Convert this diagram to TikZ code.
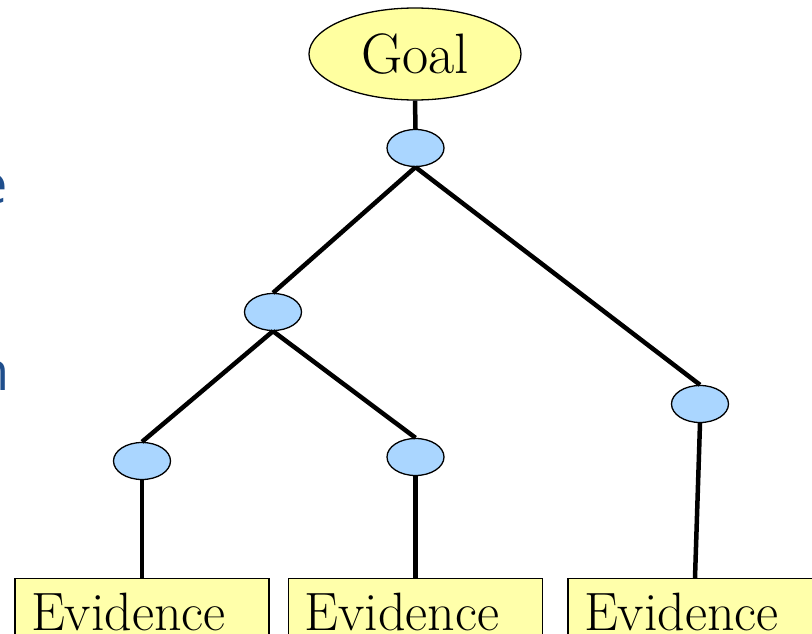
\documentclass[tikz,border=0pt]{standalone}
\usepackage{fontspec}
\newfontfamily\sidefont{Open Sans}
\usetikzlibrary{shapes.geometric}
\definecolor{goalfill}{RGB}{255,255,160}
\definecolor{nodefill}{RGB}{170,214,255}
\definecolor{evfill}{RGB}{255,255,170}
\definecolor{sideblue}{RGB}{31,78,140}
\tikzset{
  goalnode/.style={ellipse, draw, line width=1.3pt, fill=goalfill,
    minimum width=212pt, minimum height=92pt, inner sep=0pt,
    font=\fontsize{57}{57}\selectfont},
  andnode/.style={ellipse, draw, line width=1.3pt, fill=nodefill,
    minimum width=57pt, minimum height=37pt, inner sep=0pt},
  evbox/.style={rectangle, draw, line width=1.3pt, fill=evfill,
    anchor=north, text width=222pt, align=left, inner xsep=16pt, inner ysep=0pt,
    text height=52pt, text depth=30pt, font=\fontsize{54}{54}\selectfont},
  link/.style={line width=4.5pt},
  sidetext/.style={text=sideblue, inner sep=0pt, font=\sidefont\fontsize{54}{54}\selectfont}
}
\begin{document}
\begin{tikzpicture}[x=1pt, y=-1pt]
\useasboundingbox (0,0) rectangle (812,634);
% goal and decomposition nodes
\node[goalnode] (goal) at (415,54) {Goal};
\node[andnode] (n0) at (415.5,148) {};
\node[andnode] (n1) at (273,312) {};
\node[andnode] (n2) at (142,461) {};
\node[andnode] (n3) at (415.5,457) {};
\node[andnode] (n4) at (700,404) {};
% evidence boxes
\node[evbox] (e1) at (142,578) {Evidence};
\node[evbox] (e2) at (415.5,578) {Evidence};
\node[evbox] (e3) at (695,578) {Evidence};
% links
\draw[link] (goal.south) -- (n0.north);
\draw[link] (n0.south) -- (n1.north);
\draw[link] (n0.south) -- (n4.north);
\draw[link] (n1.south) -- (n2.north);
\draw[link] (n1.south) -- (n3.north);
\draw[link] (n2.south) -- (e1.north);
\draw[link] (n3.south) -- (e2.north);
\draw[link] (n4.south) -- (e3.north);
% text running in from the left
\node[sidetext, anchor=base east] (s1) at (8,203) {e};
\node[sidetext, anchor=base east] (s2) at (10,390) {n};
\end{tikzpicture}
\end{document}
